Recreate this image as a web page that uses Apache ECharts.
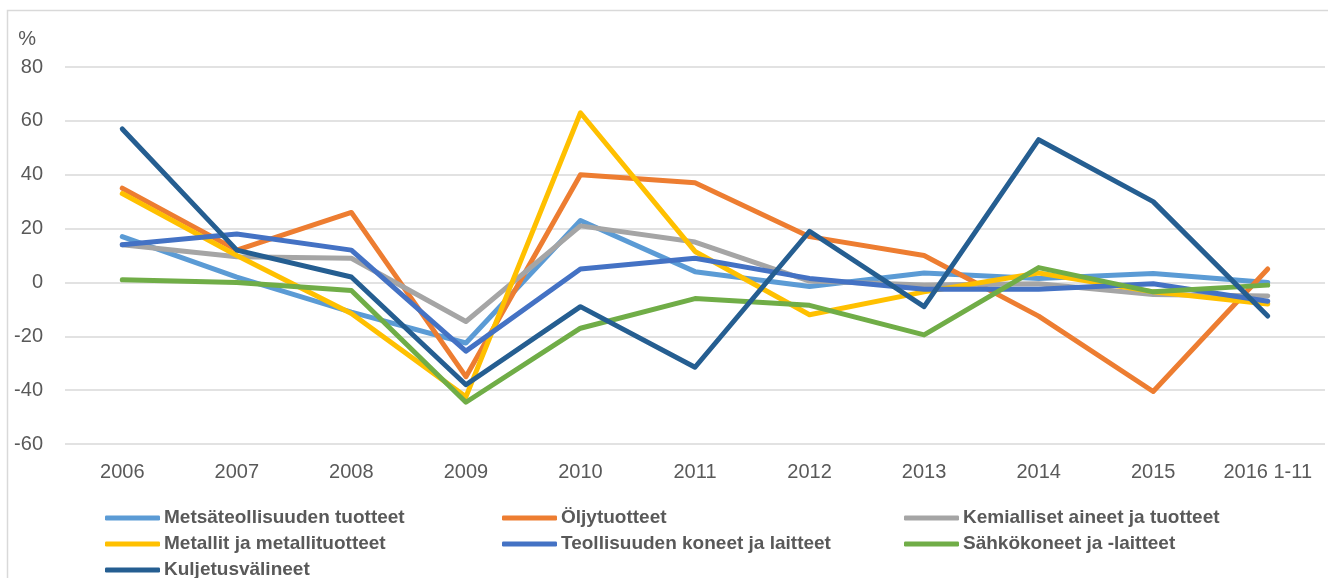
<!DOCTYPE html>
<html>
<head>
<meta charset="utf-8">
<script src="https://cdn.jsdelivr.net/npm/echarts@6/dist/echarts.min.js"></script>
<style>
  html, body { margin: 0; padding: 0; background: #fff; }
  #chart { width: 1328px; height: 578px; }
</style>
</head>
<body>
<div id="chart"></div>
<script>
const years = ["2006", "2007", "2008", "2009", "2010", "2011", "2012", "2013", "2014", "2015", "2016 1-11"];
const yTicks = { min: -60, max: 80, interval: 20 };

const metsa = [17, 2, -11, -22.5, 23, 4, -1.5, 3.5, 1.5, 3.3, 0];
const oljy = [35, 12, 26, -35, 40, 37, 17, 10, -12.5, -40.5, 5];
const kemia = [14, 9.5, 9, -14.5, 21, 15, 0.5, -1, -0.5, -4.5, -5];
const metallit = [33, 10, -11.5, -42.5, 63, 11.5, -12, -3.5, 3.5, -3.5, -8];
const koneet = [14, 18, 12, -25.5, 5, 9, 1.5, -2.5, -2.5, -0.5, -7];
const sahko = [1, 0, -3, -44.5, -17, -6, -8.5, -19.5, 5.5, -3.5, -1];
const kuljetus = [57, 12, 2, -38, -9, -31.5, 19, -9, 53, 30, -12.5];

const seriesDefs = [
  { name: "Metsäteollisuuden tuotteet", data: metsa, color: "#5B9BD5" },
  { name: "Öljytuotteet", data: oljy, color: "#ED7D31" },
  { name: "Kemialliset aineet ja tuotteet", data: kemia, color: "#A5A5A5" },
  { name: "Metallit ja metallituotteet", data: metallit, color: "#FFC000" },
  { name: "Teollisuuden koneet ja laitteet", data: koneet, color: "#4472C4" },
  { name: "Sähkökoneet ja -laitteet", data: sahko, color: "#70AD47" },
  { name: "Kuljetusvälineet", data: kuljetus, color: "#255E91" },
];

const textColor = "#595959";
const font = "'Liberation Sans', Arial, sans-serif";

function legendCol(left, names) {
  return {
    orient: "vertical",
    left: left,
    top: 508,
    height: 120,
    padding: 0,
    itemWidth: 55,
    itemHeight: 5,
    itemGap: 6,
    icon: "roundRect",
    data: names,
    textStyle: {
      color: textColor,
      fontFamily: font,
      fontWeight: "bold",
      fontSize: 19,
      lineHeight: 20,
      padding: [0, 0, 0, -1],
    },
  };
}

const chart = echarts.init(document.getElementById("chart"));
chart.setOption({
  animation: false,
  backgroundColor: "#fff",
  graphic: [
    {
      type: "rect",
      shape: { x: 7.5, y: 10.5, width: 1400, height: 700 },
      style: { fill: "none", stroke: "#d9d9d9", lineWidth: 1.5 },
      silent: true,
    },
  ],
  grid: { left: 65, right: 3, top: 67, bottom: 134 },
  legend: [
    legendCol(105, [seriesDefs[0].name, seriesDefs[3].name, seriesDefs[6].name]),
    legendCol(502, [seriesDefs[1].name, seriesDefs[4].name]),
    legendCol(904, [seriesDefs[2].name, seriesDefs[5].name]),
  ],
  xAxis: {
    type: "category",
    data: years,
    boundaryGap: true,
    axisLine: { show: false },
    axisTick: { show: false },
    axisLabel: { color: textColor, fontFamily: font, fontSize: 20, margin: 18, interval: 0 },
  },
  yAxis: {
    type: "value",
    min: yTicks.min,
    max: yTicks.max,
    interval: yTicks.interval,
    name: "%",
    nameLocation: "end",
    nameGap: 28,
    nameTextStyle: {
      color: textColor,
      fontFamily: font,
      fontSize: 20,
      align: "right",
      verticalAlign: "middle",
      padding: [0, 29, 0, 0],
    },
    axisLine: { show: false },
    axisTick: { show: false },
    axisLabel: { color: textColor, fontFamily: font, fontSize: 20, margin: 22 },
    splitLine: { lineStyle: { color: "#d9d9d9", width: 1.5 } },
  },
  series: seriesDefs.map((s) => ({
    name: s.name,
    type: "line",
    data: s.data,
    color: s.color,
    showSymbol: false,
    lineStyle: { width: 5, cap: "round", join: "round" },
  })),
});
</script>
</body>
</html>
